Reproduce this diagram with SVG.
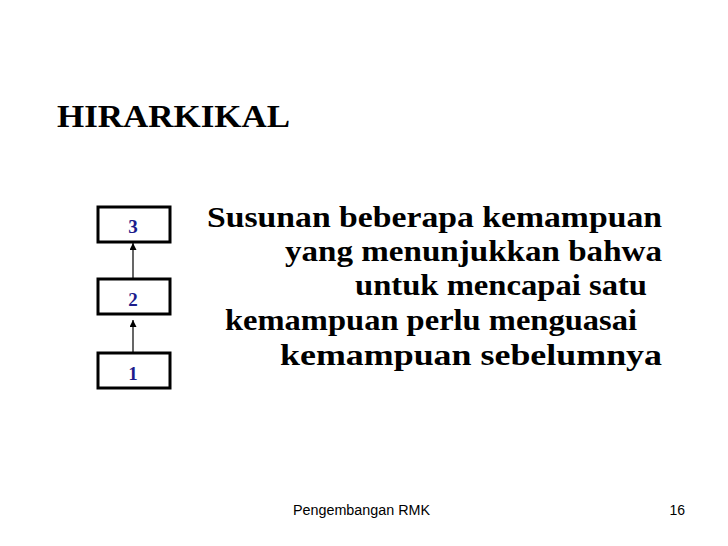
<svg xmlns="http://www.w3.org/2000/svg" width="728" height="546" viewBox="0 0 728 546">
<style>
.box{fill:#ffffff;stroke:#000000;stroke-width:3}
.num{font-family:"Liberation Serif",serif;font-weight:bold;font-size:19px;fill:#1c1c8c;text-anchor:middle}
.body{font-family:"Liberation Serif",serif;font-weight:bold;font-size:30px;fill:#000000}
.foot{font-family:"Liberation Sans",Arial,sans-serif;font-size:14px;fill:#000000}
.conn{stroke:#000000;stroke-width:1.2;fill:none}
</style>
<defs>
<marker id="ah" viewBox="0 0 10 10" refX="10" refY="5" markerWidth="7" markerHeight="7" markerUnits="userSpaceOnUse" orient="auto">
<path d="M0,0 L10,5 L0,10 z" fill="#000000"/>
</marker>
</defs>
<rect width="728" height="546" fill="#ffffff"/>
<text x="57" y="127" font-family="'Liberation Serif',serif" font-weight="bold" font-size="31" textLength="233" lengthAdjust="spacingAndGlyphs">HIRARKIKAL</text>
<g id="connectors">
<line class="conn" x1="133" y1="278" x2="133" y2="243" marker-end="url(#ah)"/>
<line class="conn" x1="133" y1="352" x2="133" y2="320" marker-end="url(#ah)"/>
</g>
<g id="node3">
<rect class="box" x="98" y="207" width="72" height="35"/>
<text class="num" x="133" y="233">3</text>
</g>
<g id="node2">
<rect class="box" x="98" y="279" width="72" height="35"/>
<text class="num" x="133" y="306">2</text>
</g>
<g id="node1">
<rect class="box" x="98" y="353" width="72" height="35"/>
<text class="num" x="133" y="380">1</text>
</g>
<g id="description">
<text class="body" x="207" y="227" textLength="455" lengthAdjust="spacingAndGlyphs">Susunan beberapa kemampuan</text>
<text class="body" x="285" y="261" textLength="377" lengthAdjust="spacingAndGlyphs">yang menunjukkan bahwa</text>
<text class="body" x="355" y="295" textLength="292" lengthAdjust="spacingAndGlyphs">untuk mencapai satu</text>
<text class="body" x="225" y="330" textLength="412" lengthAdjust="spacingAndGlyphs">kemampuan perlu menguasai</text>
<text class="body" x="280" y="365" textLength="382" lengthAdjust="spacingAndGlyphs">kemampuan sebelumnya</text>
</g>
<text class="foot" x="293" y="515" textLength="137" lengthAdjust="spacingAndGlyphs">Pengembangan RMK</text>
<text class="foot" x="685" y="515" text-anchor="end">16</text>
</svg>
